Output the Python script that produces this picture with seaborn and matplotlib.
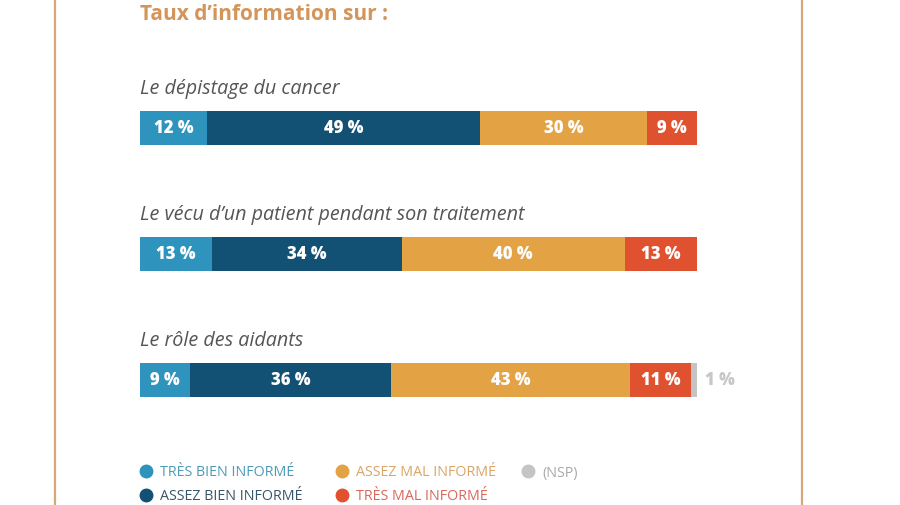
import numpy as np
import pandas as pd
import matplotlib
matplotlib.use("Agg")
import matplotlib.pyplot as plt
import seaborn as sns

# data
topics = ["Le dépistage du cancer",
          "Le vécu d\u2019un patient pendant son traitement",
          "Le rôle des aidants"]
levels = ["TRÈS BIEN INFORMÉ", "ASSEZ BIEN INFORMÉ", "ASSEZ MAL INFORMÉ",
          "TRÈS MAL INFORMÉ", "(NSP)"]
tres_bien = [12, 13, 9]
assez_bien = [49, 34, 36]
assez_mal = [30, 40, 43]
tres_mal = [9, 13, 11]
nsp = [0, 0, 1]

colors = ["#2E93BD", "#135174", "#E3A244", "#E0522F", "#C4C4C4"]
legend_text_colors = ["#4C9BB8", "#3A5567", "#D9A568", "#D9675A", "#A8A8A8"]
title_color = "#D4955A"
frame_color = "#D6A878"

df = pd.DataFrame({"topic": topics, "tb": tres_bien, "ab": assez_bien,
                   "am": assez_mal, "tm": tres_mal, "nsp": nsp})
series = ["tb", "ab", "am", "tm", "nsp"]
cum = df[series].cumsum(axis=1)

sns.set_theme(style="white")
plt.rcParams["font.family"] = ["Open Sans", "DejaVu Sans"]

fig = plt.figure(figsize=(9, 5.06), dpi=100)
W, H = 900, 506
x0, x100 = 140, 697
yc, step = 129, 126
ax = fig.add_axes([x0 / W, 0, (x100 - x0) / W, 1])

# stacked bars: draw cumulative totals from the outermost segment inward
for i in range(len(series) - 1, -1, -1):
    sns.barplot(data=cum.assign(topic=df["topic"]), x=series[i], y="topic",
                orient="h", color=colors[i], width=34 / step, ax=ax,
                saturation=1, linewidth=0)

ax.set_xlim(0, 100)
ax.set_ylim((H - yc) / step, -yc / step)
ax.axis("off")

# segment labels
for r in range(len(df)):
    left = 0
    for i, s in enumerate(series):
        v = df.loc[r, s]
        if v > 0 and s != "nsp":
            ax.text(left + v / 2, r, f"{v} %", ha="center", va="center",
                    color="white", fontsize=12, fontweight="heavy")
        elif v > 0:
            ax.text(left + v + 1.4, r, f"{v} %", ha="left", va="center",
                    color="#C8C8C8", fontsize=12, fontweight="heavy")
        left += v
    ax.text(0, r - 40 / step, df.loc[r, "topic"], ha="left", va="center",
            fontsize=14.2, style="italic", color="#555555")

fig.text(x0 / W, 1 - 15 / H, "Taux d\u2019information sur :", ha="left",
         va="center", fontsize=15, fontweight="bold", color=title_color)

# frame lines
for xl in (55, 802):
    fig.add_artist(plt.Line2D([xl / W, xl / W], [0, 1], color=frame_color,
                              lw=1.6, transform=fig.transFigure))

# legend
leg_pos = [(146, 472), (146, 496), (342, 472), (342, 496), (528, 472)]
for (px, py), lab, c, tc in zip(leg_pos, levels, colors, legend_text_colors):
    fig.add_artist(plt.Line2D([px / W], [1 - py / H], marker="o",
                              markersize=9, color=c, linestyle="none",
                              transform=fig.transFigure))
    fig.text((px + 14) / W, 1 - (py + 1) / H, lab, ha="left", va="center",
             fontsize=10.3, color=tc)

fig.savefig("out.png", dpi=100)
